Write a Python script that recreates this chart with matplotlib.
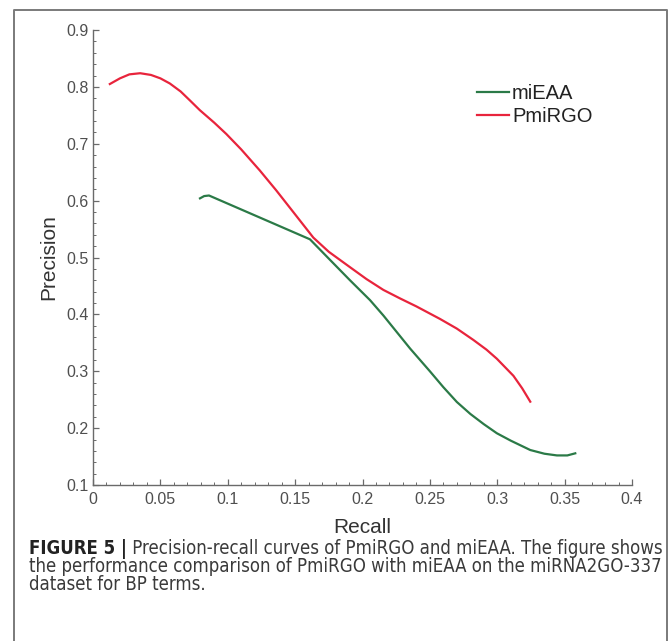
import matplotlib
matplotlib.use("Agg")
import matplotlib.pyplot as plt
from matplotlib.lines import Line2D
from matplotlib.ticker import MultipleLocator
from matplotlib.font_manager import fontManager, FontProperties

# Data
pmirgo_recall = [0.0125, 0.02, 0.027, 0.035, 0.043, 0.05, 0.057, 0.065, 0.072,
                 0.0793, 0.09, 0.099, 0.11, 0.1238, 0.136, 0.1486, 0.1635, 0.175,
                 0.1907, 0.203, 0.2155, 0.2279, 0.24, 0.2575, 0.27, 0.2823,
                 0.292, 0.2997, 0.312, 0.3185, 0.3245]
pmirgo_precision = [0.805, 0.815, 0.822, 0.824, 0.821, 0.815, 0.806, 0.792, 0.776,
                    0.759, 0.737, 0.717, 0.690, 0.653, 0.618, 0.580, 0.535, 0.510,
                    0.483, 0.462, 0.443, 0.428, 0.414, 0.392, 0.375, 0.355,
                    0.338, 0.322, 0.292, 0.270, 0.2465]

mieaa_recall = [0.0794, 0.0825, 0.0861, 0.161, 0.175, 0.1907, 0.2056, 0.2155,
                0.2353, 0.25, 0.26, 0.27, 0.28, 0.29, 0.2997, 0.31, 0.3245,
                0.335, 0.3443, 0.352, 0.3579]
mieaa_precision = [0.604, 0.608, 0.609, 0.532, 0.498, 0.460, 0.425, 0.398,
                   0.340, 0.300, 0.272, 0.246, 0.225, 0.207, 0.191, 0.178, 0.1615,
                   0.155, 0.152, 0.152, 0.1557]

caption_bold = "FIGURE 5 |"
caption_lines = [
    " Precision-recall curves of PmiRGO and miEAA. The figure shows",
    "the performance comparison of PmiRGO with miEAA on the miRNA2GO-337",
    "dataset for BP terms.",
]

W, H = 669, 641
plot_font = "Liberation Sans"

# a narrow sans face for the caption if one is installed
cap_family, cap_stretch = "Roboto", "normal"
for f in fontManager.ttflist:
    narrow = ("Narrow" in f.name or "Condensed" in f.name
              or f.stretch in ("condensed", "semi-condensed"))
    if narrow and "Mono" not in f.name and "Serif" not in f.name and f.style == "normal":
        cap_family, cap_stretch = f.name, f.stretch
        break

fig = plt.figure(figsize=(W / 100, H / 100), dpi=100)
ax = fig.add_axes([93 / W, 1 - 485 / H, (632 - 93) / W, (485 - 30) / H])

green = "#2b7a47"
red = "#e8243c"
ax.plot(mieaa_recall, mieaa_precision, color=green, lw=1.6, label="miEAA")
ax.plot(pmirgo_recall, pmirgo_precision, color=red, lw=1.6, label="PmiRGO")

ax.set_xlim(0, 0.4)
ax.set_ylim(0.1, 0.9)
ax.xaxis.set_minor_locator(MultipleLocator(0.01))
ax.yaxis.set_minor_locator(MultipleLocator(0.02))
ax.set_xticks([0, 0.05, 0.1, 0.15, 0.2, 0.25, 0.3, 0.35, 0.4])
ax.set_xticklabels(["0", "0.05", "0.1", "0.15", "0.2", "0.25", "0.3", "0.35", "0.4"])
ax.set_yticks([0.1, 0.2, 0.3, 0.4, 0.5, 0.6, 0.7, 0.8, 0.9])
ax.set_yticklabels(["0.1", "0.2", "0.3", "0.4", "0.5", "0.6", "0.7", "0.8", "0.9"])

axis_gray = "#6a6a6a"
for side in ["top", "right"]:
    ax.spines[side].set_visible(False)
for side in ["left", "bottom"]:
    ax.spines[side].set_color(axis_gray)
    ax.spines[side].set_linewidth(1.0)
ax.tick_params(which="major", direction="in", length=4, width=0.9,
               color=axis_gray, labelcolor="#4f4f4f", labelsize=11.5)
ax.tick_params(which="minor", direction="in", length=2, width=0.7, color=axis_gray)
ax.tick_params(axis="x", pad=5)
ax.tick_params(axis="y", pad=3)
for lbl in ax.get_xticklabels() + ax.get_yticklabels():
    lbl.set_fontfamily(plot_font)

ax.set_xlabel("Recall", fontsize=15, family=plot_font, color="#333333", labelpad=8)
ax.set_ylabel("Precision", fontsize=15, family=plot_font, color="#333333", labelpad=6)

leg = ax.legend(loc="upper left", bbox_to_anchor=(0.697, 0.899), frameon=False,
                prop={"family": plot_font, "size": 14.5}, handlelength=1.6,
                handletextpad=0.15, labelspacing=0.2, borderaxespad=0)
for t in leg.get_texts():
    t.set_color("#222222")

# frame around the figure, open at the bottom
frame_color = "#7a7a7a"
x0, x1, y1 = 14 / W, 667 / W, 1 - 10 / H
fig.add_artist(Line2D([x0, x0, x1, x1], [0, y1, y1, 0], transform=fig.transFigure,
                      color=frame_color, lw=1.4))

# caption, first line fitted to the frame width
cap_size = 11
cap_x, cap_y0, line_step = 29 / W, 1 - 549 / H, 18 / H
fig.canvas.draw()
r = fig.canvas.get_renderer()
bold_fp = FontProperties(family=cap_family, stretch=cap_stretch, weight="bold", size=cap_size)
reg_fp = FontProperties(family=cap_family, stretch=cap_stretch, size=cap_size)
b = fig.text(cap_x, cap_y0, caption_bold, fontproperties=bold_fp,
             va="center", color="#222222")
rest = fig.text(0, cap_y0, caption_lines[0], fontproperties=reg_fp,
                va="center", color="#3a3a3a")
wb = b.get_window_extent(r).width
wr = rest.get_window_extent(r).width
cap_size *= (663 - 29) / (wb + wr)
b.set_fontsize(cap_size)
rest.set_fontsize(cap_size)
wb = b.get_window_extent(r).width
rest.set_position((cap_x + wb / W, cap_y0))
for i, line in enumerate(caption_lines[1:], start=1):
    fig.text(cap_x, cap_y0 - i * line_step, line, fontproperties=reg_fp.copy(),
             size=cap_size, va="center", color="#3a3a3a")

fig.savefig("out.png", dpi=100, facecolor="white")
